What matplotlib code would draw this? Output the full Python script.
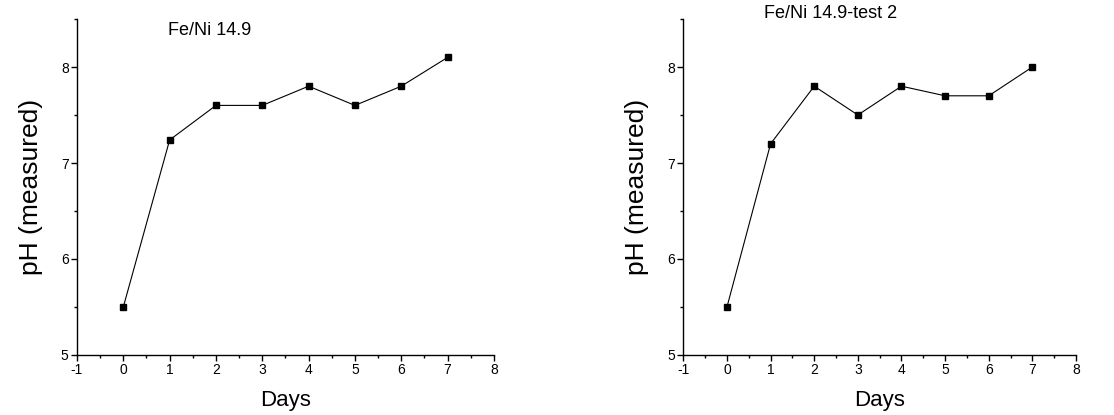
import matplotlib
matplotlib.use("Agg")
import matplotlib.pyplot as plt
from matplotlib.ticker import MultipleLocator

plt.rcParams["font.family"] = ["Liberation Sans", "DejaVu Sans"]
plt.rcParams["axes.unicode_minus"] = False

DAYS = [0, 1, 2, 3, 4, 5, 6, 7]
PH_TEST1 = [5.5, 7.24, 7.6, 7.6, 7.8, 7.6, 7.8, 8.1]
PH_TEST2 = [5.5, 7.2, 7.8, 7.5, 7.8, 7.7, 7.7, 8.0]
TITLES = ["Fe/Ni 14.9", "Fe/Ni 14.9-test 2"]

fig = plt.figure(figsize=(11.14, 4.15), dpi=100)
ax1 = fig.add_axes([0.0691, 0.1446, 0.3743, 0.8096])
ax2 = fig.add_axes([0.6134, 0.1446, 0.3525, 0.8096])

# title positions (axes fraction) as placed in the original
title_pos = [(0.317, 0.965), (0.374, 1.015)]

for ax, ph, title, (tx, ty) in zip([ax1, ax2], [PH_TEST1, PH_TEST2], TITLES, title_pos):
    ax.plot(DAYS, ph, color="black", linewidth=0.8, marker="s",
            markersize=5, markerfacecolor="black", markeredgecolor="black")
    ax.set_xlim(-1, 8)
    ax.set_ylim(5, 8.5)
    ax.xaxis.set_major_locator(MultipleLocator(1))
    ax.xaxis.set_minor_locator(MultipleLocator(0.5))
    ax.yaxis.set_major_locator(MultipleLocator(1))
    ax.yaxis.set_minor_locator(MultipleLocator(0.5))
    ax.spines["top"].set_visible(False)
    ax.spines["right"].set_visible(False)
    for s in ("left", "bottom"):
        ax.spines[s].set_linewidth(1.0)
    ax.tick_params(which="major", direction="out", length=4, width=1.0,
                   labelsize=10, pad=2)
    ax.tick_params(which="minor", direction="out", length=2.5, width=1.0)
    ax.set_xlabel("Days", fontsize=16, labelpad=9)
    ax.set_ylabel("pH (measured)", fontsize=19, labelpad=13)
    ax.text(tx, ty, title, transform=ax.transAxes, ha="center", va="center",
            fontsize=13)

fig.savefig("out.png", dpi=100)
